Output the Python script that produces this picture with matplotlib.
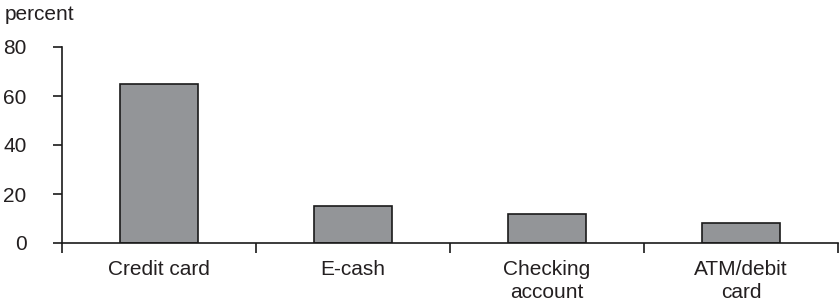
import matplotlib
matplotlib.use("Agg")
import matplotlib.pyplot as plt
import numpy as np

# data
categories = ['Credit card', 'E-cash', 'Checking\naccount', 'ATM/debit\ncard']
values = [65, 15, 12, 8]
y_ticks = [0, 20, 40, 60, 80]

plt.rcParams['font.family'] = ['Liberation Sans', 'DejaVu Sans']
text_color = '#231f20'

fig = plt.figure(figsize=(8.4, 3.08), dpi=100)
ax = fig.add_axes([62 / 840, 65 / 308, 776 / 840, 196 / 308])

ind = np.arange(len(categories))
ax.bar(ind, values, width=0.4, color='#939598', edgecolor='#1a1a1a', linewidth=1.2)

ax.set_xlim(-0.5, len(categories) - 0.5)
ax.set_ylim(0, 80)
ax.set_yticks(y_ticks)

# labels at bar centres, tick marks at the category boundaries
ax.set_xticks(ind)
ax.set_xticklabels(categories, fontsize=15, color=text_color, linespacing=1.3)
ax.tick_params(axis='x', which='major', length=0, pad=12)
ax.set_xticks(np.arange(len(categories) + 1) - 0.5, minor=True)
ax.tick_params(axis='x', which='minor', direction='out', length=7, width=1.2, color='#1a1a1a')

ax.tick_params(axis='y', direction='out', length=6.5, width=1.2, color='#1a1a1a',
               labelsize=15, labelcolor=text_color, pad=19)

for side in ['top', 'right']:
    ax.spines[side].set_visible(False)
for side in ['left', 'bottom']:
    ax.spines[side].set_linewidth(1.2)
    ax.spines[side].set_color('#1a1a1a')

fig.text(5 / 840, 1 - 15 / 308, 'percent', fontsize=15, color=text_color,
         ha='left', va='center')

fig.savefig('out.png', dpi=100)
plt.close(fig)
